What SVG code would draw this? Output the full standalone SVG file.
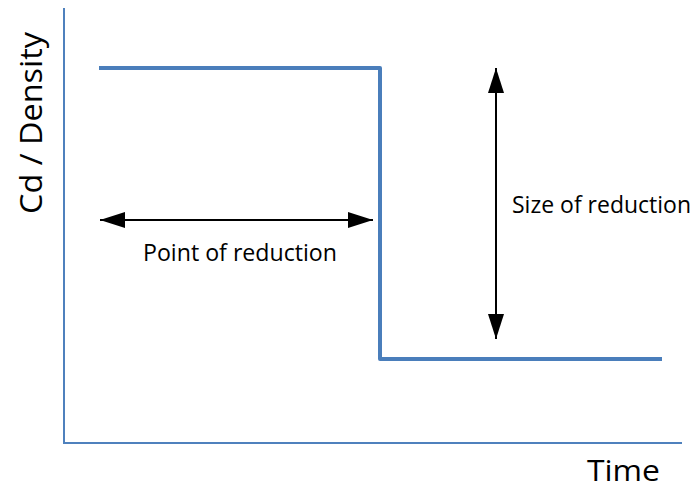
<svg xmlns="http://www.w3.org/2000/svg" width="694" height="489" viewBox="0 0 694 489">
<style>
.axis{stroke:#4F81BD;stroke-width:2;fill:none}
.step{stroke:#4A7EBB;stroke-width:4;fill:none;stroke-linejoin:round}
.arr{stroke:#000;stroke-width:2;fill:none}
.lbl{font-family:"Open Sans","Liberation Sans",sans-serif;fill:#000}
</style>
<defs>
<marker id="ah" viewBox="0 0 25 16" refX="25" refY="8" markerWidth="25" markerHeight="16" markerUnits="userSpaceOnUse" orient="auto-start-reverse">
<path d="M0,0 L25,8 L0,16 Z" fill="#000"/>
</marker>
</defs>
<g id="axes">
<path class="axis" d="M64,8 V443 H682"/>
</g>
<g id="curve">
<path class="step" d="M99,68 H380 V359 H662"/>
</g>
<g id="connectors">
<line class="arr" x1="100" y1="220" x2="373" y2="220" marker-start="url(#ah)" marker-end="url(#ah)"/>
<line class="arr" x1="496" y1="68" x2="496" y2="339" marker-start="url(#ah)" marker-end="url(#ah)"/>
</g>
<g id="labels">
<text class="lbl" x="143" y="261" font-size="23" textLength="194" lengthAdjust="spacingAndGlyphs">Point of reduction</text>
<text class="lbl" x="512" y="213" font-size="23" textLength="179" lengthAdjust="spacingAndGlyphs">Size of reduction</text>
<text class="lbl" x="587" y="481" font-size="30" textLength="73" lengthAdjust="spacingAndGlyphs">Time</text>
<text class="lbl" font-size="31" transform="translate(42,214) rotate(-90)" textLength="182" lengthAdjust="spacingAndGlyphs">Cd / Density</text>
</g>
</svg>
